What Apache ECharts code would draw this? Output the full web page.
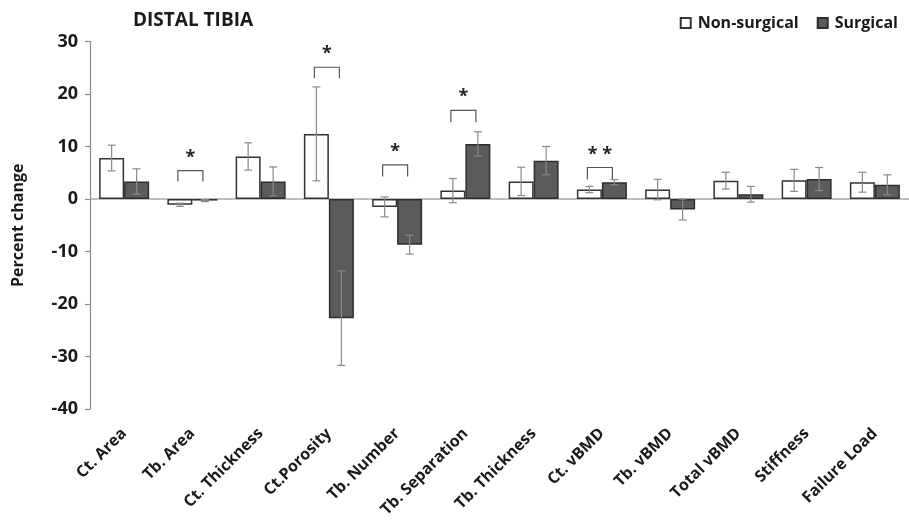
<!DOCTYPE html>
<html>
<head>
<meta charset="utf-8">
<script src="https://cdn.jsdelivr.net/npm/echarts@6/dist/echarts.min.js"></script>
<style>
html,body{margin:0;padding:0;background:#fff;}
#chart{width:909px;height:523px;}
</style>
</head>
<body>
<div id="chart"></div>
<script>
// ---- data ----
const categories = ['Ct. Area','Tb. Area','Ct. Thickness','Ct.Porosity','Tb. Number','Tb. Separation','Tb. Thickness','Ct. vBMD','Tb. vBMD','Total vBMD','Stiffness','Failure Load'];
const nonSurgical    = [7.8, -1.1, 8.1, 12.4, -1.5, 1.6, 3.35, 1.8, 1.8, 3.5, 3.55, 3.2];
const nonSurgicalErr = [2.45, 0.3, 2.6, 8.95, 1.9, 2.3, 2.7, 0.6, 1.95, 1.6, 2.1, 1.9];
const surgical       = [3.35, -0.3, 3.35, -22.7, -8.7, 10.5, 7.3, 3.2, -2.0, 0.9, 3.8, 2.7];
const surgicalErr    = [2.4, 0.2, 2.75, 9.0, 1.8, 2.3, 2.7, 0.5, 2.0, 1.5, 2.2, 1.9];
const yTicks = [-40, -30, -20, -10, 0, 10, 20, 30];
// significance annotations
const sigCategories = ['Tb. Area','Ct.Porosity','Tb. Number','Tb. Separation','Ct. vBMD'];
const sigLabels     = ['*','*','*','*','* *'];
const bracketTop    = [5.4, 25.1, 6.5, 16.9, 6.0];
const bracketLegEnd = [3.35, 23.0, 4.3, 14.6, 3.7];

// ---- styles ----
const FONT = 'Open Sans';
const BAR_W = 25;

const chart = echarts.init(document.getElementById('chart'), null, {renderer:'canvas'});

function errData(vals, errs){
  return vals.map((v,i)=>[i, v - errs[i], v + errs[i]]);
}
function errRenderer(sign){
  return function(params, api){
    const i = api.value(0);
    const pLo = api.coord([i, api.value(1)]);
    const pHi = api.coord([i, api.value(2)]);
    const x = pLo[0] + sign * BAR_W / 2;
    const cap = 4;
    const st = {stroke:'#8a8a8a', lineWidth:1.2};
    return {type:'group', children:[
      {type:'line', shape:{x1:x, y1:pLo[1], x2:x, y2:pHi[1]}, style:st},
      {type:'line', shape:{x1:x-cap, y1:pLo[1], x2:x+cap, y2:pLo[1]}, style:st},
      {type:'line', shape:{x1:x-cap, y1:pHi[1], x2:x+cap, y2:pHi[1]}, style:st}
    ]};
  };
}
const sigData = sigCategories.map((c,k)=>[categories.indexOf(c), bracketTop[k], bracketLegEnd[k]]);

const option = {
  backgroundColor:'#fff',
  animation:false,
  title:{
    text:'DISTAL TIBIA', left:128, top:6,
    textStyle:{fontFamily:FONT, fontSize:19, fontWeight:'bold', color:'#1a1a1a'}
  },
  legend:{
    right:6, top:10, itemWidth:10, itemHeight:10, itemGap:18, icon:'rect',
    data:['Non-surgical','Surgical'],
    textStyle:{fontFamily:FONT, fontSize:16, fontWeight:'bold', color:'#1a1a1a', padding:[0,0,0,2]}
  },
  grid:{left:90, top:41.5, width:823, height:367.5, containLabel:false},
  xAxis:{
    type:'category', data:categories, position:'bottom',
    axisLine:{show:false, onZero:false}, axisTick:{show:false},
    axisLabel:{rotate:45, margin:22, interval:0, fontFamily:FONT, fontSize:16, fontWeight:'bold', color:'#1a1a1a'}
  },
  yAxis:{
    type:'value', min:-40, max:30, interval:10,
    name:'Percent change', nameLocation:'middle', nameGap:64, nameRotate:90,
    nameTextStyle:{fontFamily:FONT, fontSize:16, fontWeight:'bold', color:'#1a1a1a'},
    axisLine:{show:true, lineStyle:{color:'#8a8a8a', width:1.2}},
    axisTick:{show:true, length:5, lineStyle:{color:'#8a8a8a', width:1.2}},
    splitLine:{show:false},
    axisLabel:{margin:12, fontFamily:FONT, fontSize:18, fontWeight:'bold', color:'#1a1a1a',
      formatter:function(v){ return yTicks.indexOf(v) >= 0 ? String(v) : ''; }}
  },
  series:[
    {
      name:'Non-surgical', type:'bar', data:nonSurgical, barWidth:BAR_W, barGap:'0%',
      itemStyle:{color:'#ffffff', borderColor:'#333333', borderWidth:1.5},
      z:2
    },
    {
      name:'Surgical', type:'bar', data:surgical, barWidth:BAR_W, barGap:'0%',
      itemStyle:{color:'#5b5b5b', borderColor:'#2e2e2e', borderWidth:1.5},
      z:2,
      markLine:{
        silent:true, symbol:['none','none'], label:{show:false},
        lineStyle:{color:'#a8a8a8', width:1.5, type:'solid'},
        data:[{yAxis:0}], z:1
      }
    },
    {
      type:'custom', name:'errNS', data:errData(nonSurgical, nonSurgicalErr),
      renderItem:errRenderer(-1), z:5, silent:true
    },
    {
      type:'custom', name:'errS', data:errData(surgical, surgicalErr),
      renderItem:errRenderer(1), z:5, silent:true
    },
    {
      type:'custom', name:'sig', data:sigData, z:6, silent:true,
      renderItem:function(params, api){
        const i = api.value(0);
        const pT = api.coord([i, api.value(1)]);
        const pL = api.coord([i, api.value(2)]);
        const xl = pT[0] - BAR_W/2 - 2, xr = pT[0] + BAR_W/2 - 2;
        const st = {stroke:'#555', lineWidth:1.2, fill:null};
        return {type:'group', children:[
          {type:'polyline', shape:{points:[[xl,pL[1]],[xl,pT[1]],[xr,pT[1]],[xr,pL[1]]]}, style:st},
          {type:'text', x:(xl+xr)/2, y:pT[1]-4, style:{
            text:sigLabels[params.dataIndex], fontFamily:FONT, fontSize:18, fontWeight:'bold',
            fill:'#222', align:'center', verticalAlign:'bottom'}}
        ]};
      }
    }
  ]
};
chart.setOption(option);
</script>
</body>
</html>
